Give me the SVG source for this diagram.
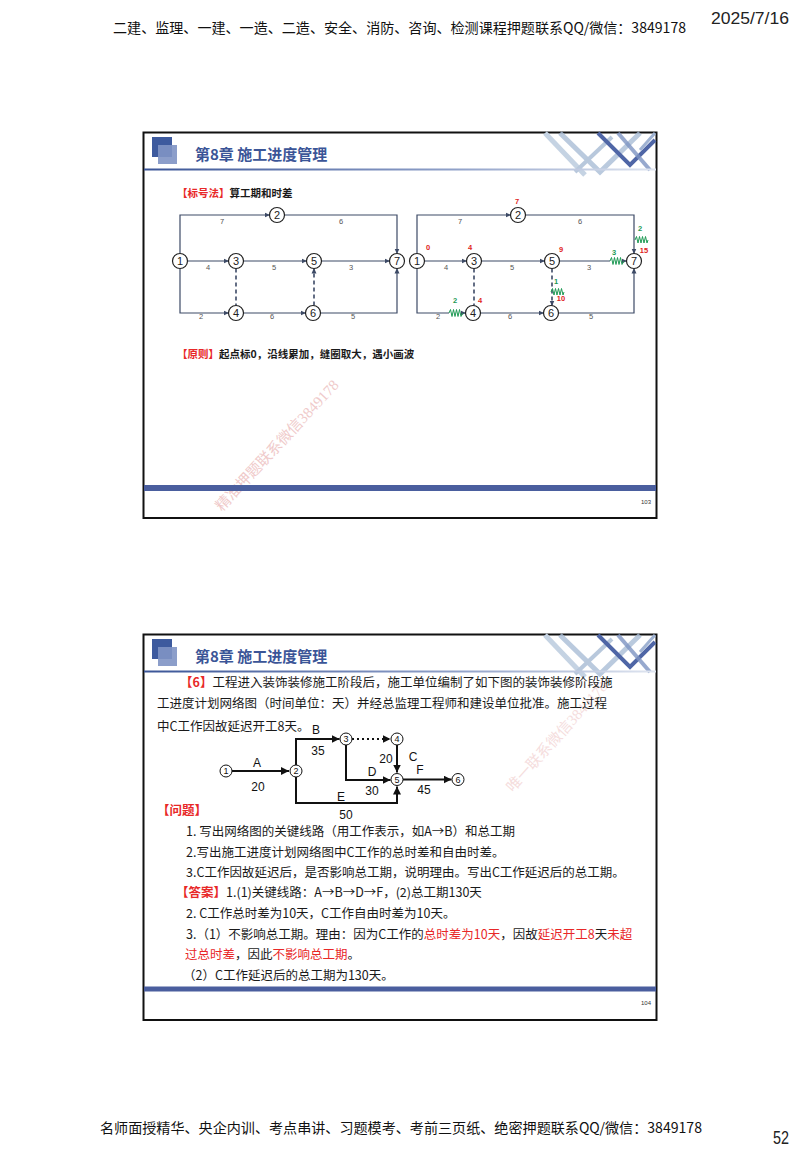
<svg xmlns="http://www.w3.org/2000/svg" width="800" height="1153" viewBox="0 0 800 1153">
<defs>
<style>
.cjk{font-family:"Noto Sans CJK SC","Liberation Sans",sans-serif}
.hdr{font-family:"Noto Sans CJK SC","Liberation Sans",sans-serif;font-size:14px;fill:#111}
.ttl{font-family:"Noto Sans CJK SC",sans-serif;font-size:15px;font-weight:bold;fill:#3b5597}
.n1{fill:#fff;stroke:#222;stroke-width:1.2}
.nt{font-family:"Liberation Sans",sans-serif;font-size:11px;fill:#222;text-anchor:middle}
.e1{fill:none;stroke:#3d4a66;stroke-width:1.2}
.d1{fill:none;stroke:#3d4a66;stroke-width:1.6;stroke-dasharray:4,3}
.lb{font-family:"Liberation Sans",sans-serif;font-size:7.5px;fill:#555;text-anchor:middle}
.rd{font-family:"Liberation Sans",sans-serif;font-size:7.5px;font-weight:bold;fill:#e02222;text-anchor:middle}
.gn{font-family:"Liberation Sans",sans-serif;font-size:7.5px;font-weight:bold;fill:#1f9a55;text-anchor:middle}
.zz{fill:none;stroke:#1f9a55;stroke-width:1}
.e2{fill:none;stroke:#111;stroke-width:2}
.n2{fill:#fff;stroke:#111;stroke-width:1}
.nt2{font-family:"Liberation Sans",sans-serif;font-size:9px;fill:#111;text-anchor:middle}
.lb2{font-family:"Liberation Sans",sans-serif;font-size:12px;fill:#111;text-anchor:middle}
.bd{font-family:"Noto Sans CJK SC","Liberation Sans",sans-serif;font-size:12.5px;fill:#1a1a1a}
.red{fill:#e82828}
.wm{font-family:"Liberation Serif","Noto Sans CJK SC",serif;font-size:15px;fill:#e4a0a0}
.pg{font-family:"Liberation Sans",sans-serif;font-size:6px;fill:#333;text-anchor:end}
</style>
<marker id="a1" markerWidth="6" markerHeight="6" refX="5" refY="3" orient="auto" markerUnits="userSpaceOnUse"><path d="M0,0.5 L5.5,3 L0,5.5z" fill="#3d4a66"/></marker>
<marker id="a2" markerWidth="10" markerHeight="10" refX="8" refY="4" orient="auto" markerUnits="userSpaceOnUse"><path d="M0,0 L8,4 L0,8z" fill="#111"/></marker>
<linearGradient id="hl" x1="0" x2="1" y1="0" y2="0"><stop offset="0" stop-color="#3b5597"/><stop offset="0.6" stop-color="#8fa0c8"/><stop offset="1" stop-color="#dfe5f0"/></linearGradient>
<g id="deco">
<path d="M545,133 L585,175" stroke="#c5d3e3" stroke-width="5" fill="none"/>
<path d="M560,133 L600,172 L640,133" stroke="#a9bdd6" stroke-width="5" fill="none" opacity="0.8"/>
<path d="M575,172 L612,137" stroke="#b8c8dc" stroke-width="4" fill="none"/>
<path d="M598,133 L630,165 L655,140" stroke="#4f66a6" stroke-width="4" fill="none"/>
<path d="M618,133 L650,170" stroke="#7d93c2" stroke-width="4" fill="none" opacity="0.8"/>
<path d="M640,150 L655,133" stroke="#9fb2d2" stroke-width="3" fill="none"/>
</g>
</defs>
<rect width="800" height="1153" fill="#fff"/>

<g id="page-header">
<text class="hdr" x="113" y="33" textLength="573" lengthAdjust="spacingAndGlyphs">二建、监理、一建、一造、二造、安全、消防、咨询、检测课程押题联系QQ/微信：3849178</text>
<text x="711" y="24" font-family="Liberation Sans,sans-serif" font-size="16" fill="#222" textLength="78" lengthAdjust="spacingAndGlyphs">2025/7/16</text>
</g>
<g id="page-footer">
<text class="hdr" x="100" y="1133" textLength="602" lengthAdjust="spacingAndGlyphs">名师面授精华、央企内训、考点串讲、习题模考、考前三页纸、绝密押题联系QQ/微信：3849178</text>
<text x="773" y="1144" font-family="Liberation Sans,sans-serif" font-size="18" fill="#222" textLength="16" lengthAdjust="spacingAndGlyphs">52</text>
</g>

<g id="slide1">
<rect x="143.5" y="132.5" width="513" height="385.5" fill="#fff" stroke="#111" stroke-width="2"/>
<use href="#deco"/>
<rect x="152" y="137" width="20" height="20" fill="#3d5a9e"/>
<rect x="158" y="145" width="19" height="19" fill="#7f93c4" opacity="0.9"/>
<text class="ttl" x="195" y="160">第8章 施工进度管理</text>
<rect x="144" y="168.5" width="512" height="2" fill="url(#hl)"/>
<text class="cjk" x="177" y="197" font-size="10.5" font-weight="bold" fill="#1a1a1a"><tspan fill="#e82828">【标号法】</tspan>算工期和时差</text>

<g id="net-left">
<g id="left-edges">
<path class="e1" d="M180,253.5 V215 H269.5" marker-end="url(#a1)"/>
<path class="e1" d="M284.5,215 H397 V253.5" marker-end="url(#a1)"/>
<path class="e1" d="M187.5,261 H228.5" marker-end="url(#a1)"/>
<path class="e1" d="M243.5,261 H306.5" marker-end="url(#a1)"/>
<path class="e1" d="M321.5,261 H389.5" marker-end="url(#a1)"/>
<path class="d1" d="M236,268.5 V305.5"/>
<path class="d1" d="M314,305.5 V268.5" marker-end="url(#a1)"/>
<path class="e1" d="M180,268.5 V313 H228.5" marker-end="url(#a1)"/>
<path class="e1" d="M243.5,313 H305.5" marker-end="url(#a1)"/>
<path class="e1" d="M320.5,313 H397 V268.5" marker-end="url(#a1)"/>
</g>
<g id="left-labels">
<text class="lb" x="222" y="224">7</text>
<text class="lb" x="341" y="224">6</text>
<text class="lb" x="208" y="270">4</text>
<text class="lb" x="274" y="270">5</text>
<text class="lb" x="351" y="270">3</text>
<text class="lb" x="201" y="319">2</text>
<text class="lb" x="272" y="319">6</text>
<text class="lb" x="353" y="319">5</text>
</g>
<g id="L1"><circle class="n1" cx="180" cy="261" r="7.5"/><text class="nt" x="180" y="265">1</text></g>
<g id="L2"><circle class="n1" cx="277" cy="215" r="7.5"/><text class="nt" x="277" y="219">2</text></g>
<g id="L3"><circle class="n1" cx="236" cy="261" r="7.5"/><text class="nt" x="236" y="265">3</text></g>
<g id="L4"><circle class="n1" cx="236" cy="313" r="7.5"/><text class="nt" x="236" y="317">4</text></g>
<g id="L5"><circle class="n1" cx="314" cy="261" r="7.5"/><text class="nt" x="314" y="265">5</text></g>
<g id="L6"><circle class="n1" cx="313" cy="313" r="7.5"/><text class="nt" x="313" y="317">6</text></g>
<g id="L7"><circle class="n1" cx="397" cy="261" r="7.5"/><text class="nt" x="397" y="265">7</text></g>
</g>

<g id="net-right">
<g id="right-edges">
<path class="e1" d="M417,253.5 V215 H510.5" marker-end="url(#a1)"/>
<path class="e1" d="M525.5,215 H634 V253.5" marker-end="url(#a1)"/>
<path class="e1" d="M424.5,261 H466.5" marker-end="url(#a1)"/>
<path class="e1" d="M481.5,261 H544.5" marker-end="url(#a1)"/>
<path class="e1" d="M559.5,261 H610 M624,261 H626.5" marker-end="url(#a1)"/>
<path class="d1" d="M474,268.5 V305.5"/>
<path class="d1" d="M552,268.5 V305.5" marker-end="url(#a1)"/>
<path class="e1" d="M417,268.5 V313 H449 M463,313 H465.5" marker-end="url(#a1)"/>
<path class="e1" d="M480.5,313 H543.5" marker-end="url(#a1)"/>
<path class="e1" d="M558.5,313 H634 V268.5" marker-end="url(#a1)"/>
</g>
<g id="zigzags">
<polyline class="zz" points="610,261 611.5,257.5 613,264.5 614.5,257.5 616,264.5 617.5,257.5 619,264.5 620.5,257.5 622,264.5 624,261"/>
<polyline class="zz" points="449,313 450.5,309.5 452,316.5 453.5,309.5 455,316.5 456.5,309.5 458,316.5 459.5,309.5 461,316.5 463,313"/>
<polyline class="zz" points="635,240 636.5,236.5 638,243 639.5,236.5 641,243 642.5,236.5 644,243 645.5,236.5 647,243 648,240"/>
<polyline class="zz" points="551,292 552.5,288.5 554,295 555.5,288.5 557,295 558.5,288.5 560,295 561.5,288.5 563,295 564,292"/>
</g>
<g id="right-labels">
<text class="lb" x="460" y="224">7</text>
<text class="lb" x="580" y="224">6</text>
<text class="lb" x="446" y="270">4</text>
<text class="lb" x="512" y="270">5</text>
<text class="lb" x="589" y="270">3</text>
<text class="lb" x="438" y="319">2</text>
<text class="lb" x="510" y="319">6</text>
<text class="lb" x="591" y="319">5</text>
<text class="rd" x="517" y="204">7</text>
<text class="rd" x="428" y="250">0</text>
<text class="rd" x="470" y="250">4</text>
<text class="rd" x="561" y="252">9</text>
<text class="rd" x="644" y="253">15</text>
<text class="rd" x="561" y="301">10</text>
<text class="rd" x="480" y="303">4</text>
<text class="gn" x="640" y="231">2</text>
<text class="gn" x="614" y="255">3</text>
<text class="gn" x="556" y="284">1</text>
<text class="gn" x="455" y="303">2</text>
</g>
<g id="R1"><circle class="n1" cx="417" cy="261" r="7.5"/><text class="nt" x="417" y="265">1</text></g>
<g id="R2"><circle class="n1" cx="518" cy="215" r="7.5"/><text class="nt" x="518" y="219">2</text></g>
<g id="R3"><circle class="n1" cx="474" cy="261" r="7.5"/><text class="nt" x="474" y="265">3</text></g>
<g id="R4"><circle class="n1" cx="473" cy="313" r="7.5"/><text class="nt" x="473" y="317">4</text></g>
<g id="R5"><circle class="n1" cx="552" cy="261" r="7.5"/><text class="nt" x="552" y="265">5</text></g>
<g id="R6"><circle class="n1" cx="551" cy="313" r="7.5"/><text class="nt" x="551" y="317">6</text></g>
<g id="R7"><circle class="n1" cx="634" cy="261" r="7.5"/><text class="nt" x="634" y="265">7</text></g>
</g>

<text class="cjk" x="177" y="358" font-size="10.5" font-weight="bold" fill="#1a1a1a"><tspan fill="#e82828">【原则】</tspan>起点标0，沿线累加，缝圈取大，遇小画波</text>
<text class="wm" x="222" y="512" transform="rotate(-47 222 512)" opacity="0.55">精准押题联系微信3849178</text>
<rect x="144" y="485" width="512" height="6" fill="#4a5e9e"/>
<text class="pg" x="651" y="504">103</text>
</g>

<g id="slide2">
<rect x="143.5" y="634.5" width="513" height="385.5" fill="#fff" stroke="#111" stroke-width="2"/>
<use href="#deco" transform="translate(0,502)"/>
<rect x="152" y="639" width="20" height="20" fill="#3d5a9e"/>
<rect x="158" y="647" width="19" height="19" fill="#7f93c4" opacity="0.9"/>
<text class="ttl" x="195" y="662">第8章 施工进度管理</text>
<rect x="144" y="670.5" width="512" height="2" fill="url(#hl)"/>
<text class="wm" x="513" y="793" transform="rotate(-48 513 793)" opacity="0.35">唯一联系微信3849178</text>

<text class="bd" x="180" y="687"><tspan class="red" font-weight="bold">【6】</tspan>工程进入装饰装修施工阶段后，施工单位编制了如下图的装饰装修阶段施</text>
<text class="bd" x="157" y="708">工进度计划网络图（时间单位：天）并经总监理工程师和建设单位批准。施工过程</text>
<text class="bd" x="157" y="731">中C工作因故延迟开工8天。</text>

<g id="net2">
<g id="net2-edges">
<path class="e2" d="M232,771 H289" marker-end="url(#a2)"/>
<path class="e2" d="M296,765 V739 H339.5" marker-end="url(#a2)"/>
<path class="e2" d="M352,739 H390.5" stroke-dasharray="2,3" marker-end="url(#a2)"/>
<path class="e2" d="M397,745 V772.5" marker-end="url(#a2)"/>
<path class="e2" d="M346,745 V780 H390.5" marker-end="url(#a2)"/>
<path class="e2" d="M403,779.5 H451.5" marker-end="url(#a2)"/>
<path class="e2" d="M296,777 V803 H397 V786.5" marker-end="url(#a2)"/>
</g>
<g id="net2-labels">
<text class="lb2" x="257" y="767">A</text>
<text class="lb2" x="258" y="791">20</text>
<text class="lb2" x="316" y="734">B</text>
<text class="lb2" x="318" y="755">35</text>
<text class="lb2" x="386" y="763">20</text>
<text class="lb2" x="413" y="761">C</text>
<text class="lb2" x="372" y="776">D</text>
<text class="lb2" x="372" y="795">30</text>
<text class="lb2" x="420" y="774">F</text>
<text class="lb2" x="424" y="794">45</text>
<text class="lb2" x="341" y="801">E</text>
<text class="lb2" x="346" y="819">50</text>
</g>
<g id="N1"><circle class="n2" cx="226" cy="771" r="6"/><text class="nt2" x="226" y="774.2">1</text></g>
<g id="N2"><circle class="n2" cx="296" cy="771" r="6"/><text class="nt2" x="296" y="774.2">2</text></g>
<g id="N3"><circle class="n2" cx="346" cy="739" r="6"/><text class="nt2" x="346" y="742.2">3</text></g>
<g id="N4"><circle class="n2" cx="397" cy="739" r="6"/><text class="nt2" x="397" y="742.2">4</text></g>
<g id="N5"><circle class="n2" cx="397" cy="779.5" r="6"/><text class="nt2" x="397" y="782.7">5</text></g>
<g id="N6"><circle class="n2" cx="458" cy="779.5" r="6"/><text class="nt2" x="458" y="782.7">6</text></g>
</g>

<text class="bd red" x="157" y="815" font-weight="bold">【问题】</text>
<text class="bd" x="186" y="836">1. 写出网络图的关键线路（用工作表示，如A→B）和总工期</text>
<text class="bd" x="186" y="857">2.写出施工进度计划网络图中C工作的总时差和自由时差。</text>
<text class="bd" x="186" y="877">3.C工作因故延迟后，是否影响总工期，说明理由。写出C工作延迟后的总工期。</text>
<text class="bd" x="176" y="897"><tspan class="red" font-weight="bold">【答案】</tspan>1.(1)关键线路：A→B→D→F，(2)总工期130天</text>
<text class="bd" x="186" y="918">2. C工作总时差为10天，C工作自由时差为10天。</text>
<text class="bd" x="186" y="939">3.（1）不影响总工期。理由：因为C工作的<tspan class="red">总时差为10天</tspan>，因故<tspan class="red">延迟开工8</tspan>天<tspan class="red">未超</tspan></text>
<text class="bd" x="185" y="959"><tspan class="red">过总时差</tspan>，因此<tspan class="red">不影响总工期</tspan>。</text>
<text class="bd" x="183" y="980">（2）C工作延迟后的总工期为130天。</text>
<rect x="144" y="986.5" width="512" height="5" fill="#4a5e9e"/>
<text class="pg" x="651" y="1005">104</text>
</g>
</svg>
